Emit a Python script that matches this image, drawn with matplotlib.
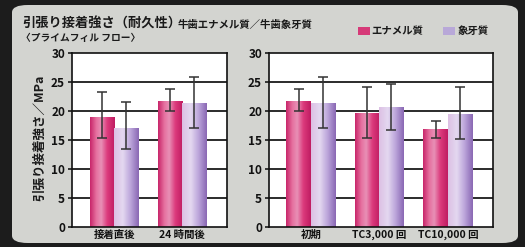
import matplotlib
matplotlib.use("Agg")
import matplotlib.pyplot as plt
import numpy as np
from matplotlib.patches import FancyBboxPatch, Rectangle
from matplotlib.colors import LinearSegmentedColormap

plt.rcParams['font.family'] = ['Noto Sans CJK JP', 'DejaVu Sans']

# ---- data ----
left_categories = ["接着直後", "24 時間後"]
left_enamel = [19.0, 21.7]
left_enamel_err_lo = [3.7, 1.7]
left_enamel_err_hi = [4.3, 2.1]
left_dentin = [17.1, 21.4]
left_dentin_err_lo = [3.6, 4.3]
left_dentin_err_hi = [4.5, 4.5]

right_categories = ["初期", "TC3,000 回", "TC10,000 回"]
right_enamel = [21.7, 19.6, 16.9]
right_enamel_err_lo = [1.7, 4.3, 1.5]
right_enamel_err_hi = [2.1, 4.5, 1.4]
right_dentin = [21.4, 20.7, 19.5]
right_dentin_err_lo = [4.3, 4.0, 4.3]
right_dentin_err_hi = [4.5, 4.0, 4.6]

yticks = [0, 5, 10, 15, 20, 25, 30]
series_names = ["エナメル質", "象牙質"]

W, H = 525, 247
fig = plt.figure(figsize=(W / 100, H / 100), dpi=100)
fig.patch.set_facecolor("#1c1c1c")

def fx(x):
    return x / W

def fy(y):
    return 1 - y / H

# rounded panel
panel = FancyBboxPatch((fx(12), fy(243)), fx(518) - fx(12), fy(5) - fy(243),
                       boxstyle="round,pad=0,rounding_size=0.03",
                       transform=fig.transFigure, facecolor="#d3d4d0",
                       edgecolor="none", zorder=-10)
fig.patches.append(panel)

enamel_cmap = LinearSegmentedColormap.from_list(
    "en", [(0, "#c8266a"), (0.25, "#e6709f"), (0.45, "#e890b6"),
           (0.7, "#dc3a7c"), (1, "#c01c62")])
dentin_cmap = LinearSegmentedColormap.from_list(
    "de", [(0, "#dcc0e4"), (0.35, "#e4d8f0"), (0.65, "#bea8dc"),
           (1, "#8a68b4")])
grad = np.linspace(0, 1, 64).reshape(1, -1)

def draw_panel(ax, cats, en, en_lo, en_hi, de, de_lo, de_hi, xlim):
    x = np.arange(len(cats))
    off, bw = 0.176, 0.36
    ax.set_zorder(2)
    ax.set_facecolor("white")
    ax.set_axisbelow(True)
    for yv in yticks[1:-1]:
        ax.axhline(yv, color="#1a1a1a", lw=1.3, zorder=1)
    b1 = ax.bar(x - off, en, bw, color="#d63a78", zorder=2)
    b2 = ax.bar(x + off, de, bw, color="#b8a8d8", zorder=2)
    for bars, cmap in ((b1, enamel_cmap), (b2, dentin_cmap)):
        for p in bars:
            x0, y0 = p.get_x(), p.get_y()
            im = ax.imshow(grad, cmap=cmap, aspect="auto",
                           extent=(x0, x0 + p.get_width(), y0, y0 + p.get_height()),
                           zorder=3, interpolation="bilinear")
            im.set_clip_path(p)
    ekw = dict(fmt="none", ecolor="#333333", elinewidth=1.1, capsize=3.5,
               capthick=1.1, zorder=4)
    ax.errorbar(x - off, en, yerr=[en_lo, en_hi], **ekw)
    ax.errorbar(x + off, de, yerr=[de_lo, de_hi], **ekw)
    ax.set_xlim(*xlim)
    ax.set_ylim(0, 30)
    ax.set_yticks(yticks)
    ax.set_yticklabels([str(v) for v in yticks], fontsize=8.5, fontweight="bold",
                       color="#111111")
    ax.set_xticks(x)
    ax.set_xticklabels(cats, fontsize=7.5, fontweight="bold", color="#111111")
    ax.tick_params(axis="y", length=3, width=1.2, color="#1a1a1a", pad=2)
    ax.tick_params(axis="x", length=0, pad=2)
    for s in ax.spines.values():
        s.set_color("#111111")
        s.set_linewidth(1.2)
        s.set_zorder(5)

ax1 = fig.add_axes([fx(72), fy(227), fx(227) - fx(72), fy(53) - fy(227)])
draw_panel(ax1, left_categories, left_enamel, left_enamel_err_lo, left_enamel_err_hi,
           left_dentin, left_dentin_err_lo, left_dentin_err_hi, (-0.62, 1.66))
ax2 = fig.add_axes([fx(269), fy(227), fx(493) - fx(269), fy(53) - fy(227)])
draw_panel(ax2, right_categories, right_enamel, right_enamel_err_lo, right_enamel_err_hi,
           right_dentin, right_dentin_err_lo, right_dentin_err_hi, (-0.61, 2.66))

# titles
fig.text(fx(22), fy(24), "引張り接着強さ（耐久性）", fontsize=9.5, fontweight="bold",
         color="#1a1a1a", va="center", ha="left")
fig.text(fx(178), fy(25), "牛歯エナメル質／牛歯象牙質", fontsize=7.5, fontweight="bold",
         color="#1a1a1a", va="center", ha="left")
fig.text(fx(21), fy(38), "〈プライムフィル フロー〉", fontsize=7, fontweight="bold",
         color="#1a1a1a", va="center", ha="left")

# legend
fig.patches.append(Rectangle((fx(358), fy(35)), fx(12), fy(27) - fy(35),
                             transform=fig.transFigure, facecolor="#d63a78",
                             edgecolor="none"))
fig.text(fx(371), fy(31), series_names[0], fontsize=7.5, fontweight="bold",
         color="#1a1a1a", va="center", ha="left")
fig.patches.append(Rectangle((fx(443), fy(35)), fx(12), fy(27) - fy(35),
                             transform=fig.transFigure, facecolor="#b8a8d8",
                             edgecolor="none"))
fig.text(fx(458), fy(31), series_names[1], fontsize=7.5, fontweight="bold",
         color="#1a1a1a", va="center", ha="left")

# y label
fig.text(fx(40), fy(138), "引張り接着強さ／MPa", fontsize=9, fontweight="bold",
         color="#1a1a1a", rotation=90, va="center", ha="center")

fig.savefig("out.png", dpi=100, facecolor=fig.get_facecolor())
